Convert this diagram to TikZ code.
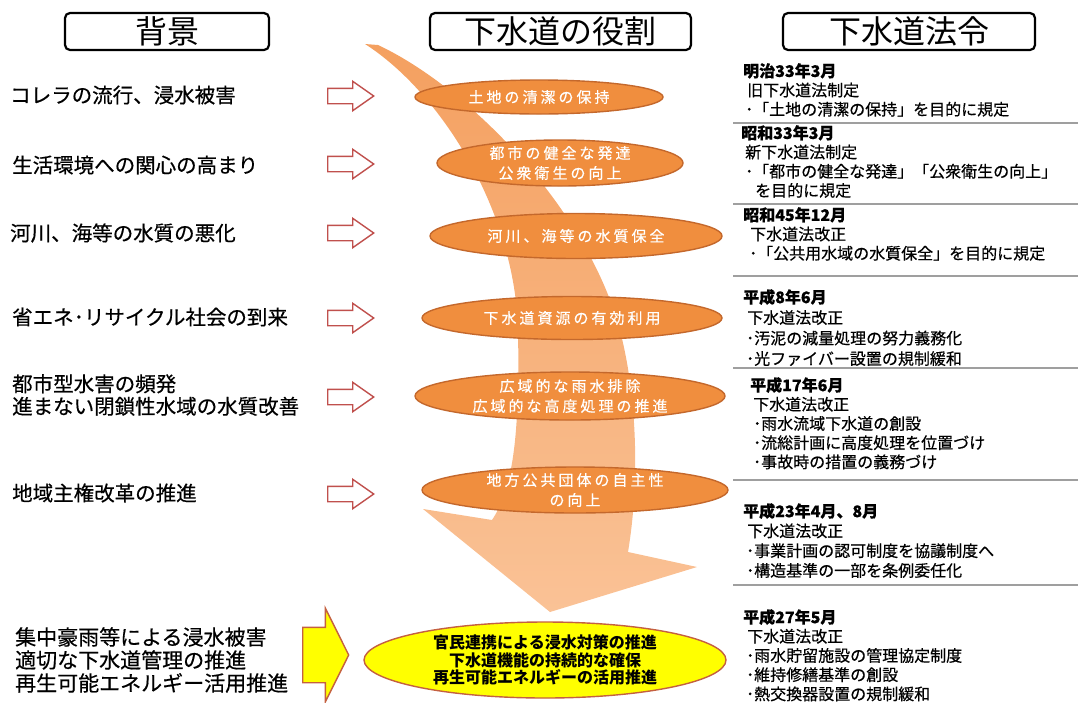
\documentclass[tikz,border=0pt]{standalone}
\usepackage{fontspec}
\setmainfont{Noto Sans CJK JP}
\newfontfamily\medfont{Noto Sans CJK JP}[FakeBold=0.5]
\newfontfamily\spacedfont{Noto Sans CJK JP}[LetterSpace=20, FakeBold=0.4]
\usetikzlibrary{shapes.geometric,shapes.arrows}

\definecolor{ovalfill}{RGB}{240,142,62}
\definecolor{ovaldraw}{RGB}{196,104,44}
\definecolor{flowtop}{RGB}{244,160,96}
\definecolor{flowbot}{RGB}{250,194,150}
\definecolor{arrowred}{RGB}{192,80,77}
\definecolor{yelfill}{RGB}{255,255,0}
\definecolor{yeldraw}{RGB}{196,96,64}

\tikzset{
  titlebox/.style={draw, line width=2.2pt, rounded corners=5pt, inner sep=0pt,
    minimum height=37pt, font=\fontsize{32}{34}\selectfont},
  cause/.style={anchor=west, align=left, inner sep=0pt,
    font=\medfont\fontsize{20.5}{22.5}\selectfont},
  hollow/.style={single arrow, draw=arrowred, fill=white, line width=1.4pt,
    single arrow tip angle=70, single arrow head extend=7pt,
    inner xsep=0pt, inner ysep=7pt, minimum height=46pt},
  bigarrow/.style={single arrow, draw=yeldraw, fill=yelfill, line width=1.4pt,
    single arrow tip angle=127, single arrow head extend=19pt,
    inner xsep=0pt, inner ysep=27pt, minimum height=46pt},
  roleoval/.style={ellipse, draw=ovaldraw, fill=ovalfill, line width=1.4pt, inner sep=0pt},
  roletext/.style={text=white, align=center, inner sep=0pt,
    font=\spacedfont\fontsize{15}{20}\selectfont},
  lawtext/.style={anchor=north west, align=left, inner sep=0pt,
    font=\medfont\fontsize{16}{19.2}\selectfont},
  sepline/.style={draw=gray!75, line width=1.6pt}
}

\begin{document}
\begin{tikzpicture}[x=1pt, y=-1pt]
\useasboundingbox (0,0) rectangle (1078,702);

% headings
\node[titlebox, minimum width=204pt] (bg) at (167,31.5) {背景};
\node[titlebox, minimum width=261pt] (role) at (560.5,31.5) {下水道の役割};
\node[titlebox, minimum width=252pt] (law) at (909,31.5) {下水道法令};

% curved flow arrow behind the ovals
\shade[top color=flowtop, bottom color=flowbot]
  (365,44) .. controls (440,92) and (515,210) .. (518,330)
  .. controls (520,440) and (512,490) .. (492,520)
  -- (423,509) -- (550,612) -- (697,567) -- (628,552)
  .. controls (640,480) and (636,400) .. (623,343)
  .. controls (595,215) and (470,88) .. (378,45) -- cycle;

% background
\node[cause] (cause1) at (10,95) {コレラの流行、浸水被害};
\node[cause] (cause2) at (12,165) {生活環境への関心の高まり};
\node[cause] (cause3) at (10,233) {河川、海等の水質の悪化};
\node[cause] (cause4) at (12,317) {省エネ･リサイクル社会の到来};
\node[cause] (cause5) at (12,395) {都市型水害の頻発\\進まない閉鎖性水域の水質改善};
\node[cause] (cause6) at (12,493) {地域主権改革の推進};
\node[cause, font=\medfont\fontsize{21}{23}\selectfont] (cause7) at (15,660)
  {集中豪雨等による浸水被害\\適切な下水道管理の推進\\再生可能エネルギー活用推進};

\foreach \y/\n in {96/1,164/2,233/3,318/4,397/5,494/6}
  \node[hollow, anchor=tail] (arr\n) at (327,\y) {};
\node[bigarrow, anchor=tail] (arrY) at (302,655) {};

% roles
\node[roleoval, minimum width=248pt, minimum height=34pt] (role1) at (539,97) {};
\node[roletext] at (role1) {土地の清潔の保持};
\node[roleoval, minimum width=246pt, minimum height=46pt] (role2) at (560,163) {};
\node[roletext] at (role2) {都市の健全な発達\\公衆衛生の向上};
\node[roleoval, minimum width=292pt, minimum height=45pt] (role3) at (576,236) {};
\node[roletext] at (role3) {河川、海等の水質保全};
\node[roleoval, minimum width=300pt, minimum height=43pt] (role4) at (572,318) {};
\node[roletext] at (role4) {下水道資源の有効利用};
\node[roleoval, minimum width=310pt, minimum height=48pt] (role5) at (570,396) {};
\node[roletext] at (role5) {広域的な雨水排除\\広域的な高度処理の推進};
\node[roleoval, minimum width=306pt, minimum height=46pt] (role6) at (575,490) {};
\node[roletext] at (role6) {地方公共団体の自主性\\の向上};
\node[roleoval, draw=yeldraw, fill=yelfill, minimum width=362pt, minimum height=76pt] (roleY) at (545,660) {};
\node[align=center, inner sep=0pt, font=\bfseries\fontsize{16}{17.5}\selectfont] at (roleY)
  {官民連携による浸水対策の推進\\下水道機能の持続的な確保\\再生可能エネルギーの活用推進};

% laws
\node[lawtext] (law1) at (743,63) {\textbf{明治33年3月}\\
  \hspace*{4pt}旧下水道法制定\\
  \hspace*{2pt}･「土地の清潔の保持」を目的に規定};
\node[lawtext] (law2) at (741,125) {\textbf{昭和33年3月}\\
  \hspace*{4pt}新下水道法制定\\
  \hspace*{4pt}･「都市の健全な発達」「公衆衛生の向上」\\
  \hspace*{14pt}を目的に規定};
\node[lawtext] (law3) at (743,207) {\textbf{昭和45年12月}\\
  \hspace*{7pt}下水道法改正\\
  \hspace*{6pt}･「公共用水域の水質保全」を目的に規定};
\node[lawtext, font=\medfont\fontsize{16}{20.5}\selectfont] (law4) at (743,289) {\textbf{平成8年6月}\\
  \hspace*{4pt}下水道法改正\\
  \hspace*{3pt}･汚泥の減量処理の努力義務化\\
  \hspace*{3pt}･光ファイバー設置の規制緩和};
\node[lawtext] (law5) at (750,377) {\textbf{平成17年6月}\\
  \hspace*{3pt}下水道法改正\\
  \hspace*{3pt}･雨水流域下水道の創設\\
  \hspace*{3pt}･流総計画に高度処理を位置づけ\\
  \hspace*{3pt}･事故時の措置の義務づけ};
\node[lawtext, font=\medfont\fontsize{16}{19.8}\selectfont] (law6) at (743,503) {\textbf{平成23年4月、8月}\\
  \hspace*{4pt}下水道法改正\\
  \hspace*{3pt}･事業計画の認可制度を協議制度へ\\
  \hspace*{3pt}･構造基準の一部を条例委任化};
\node[lawtext] (law7) at (743,609) {\textbf{平成27年5月}\\
  \hspace*{4pt}下水道法改正\\
  \hspace*{3pt}･雨水貯留施設の管理協定制度\\
  \hspace*{3pt}･維持修繕基準の創設\\
  \hspace*{3pt}･熱交換器設置の規制緩和};

\foreach \y in {123,204,276,368,480,585}
  \draw[sepline] (733,\y) -- (1078,\y);
\end{tikzpicture}
\end{document}
